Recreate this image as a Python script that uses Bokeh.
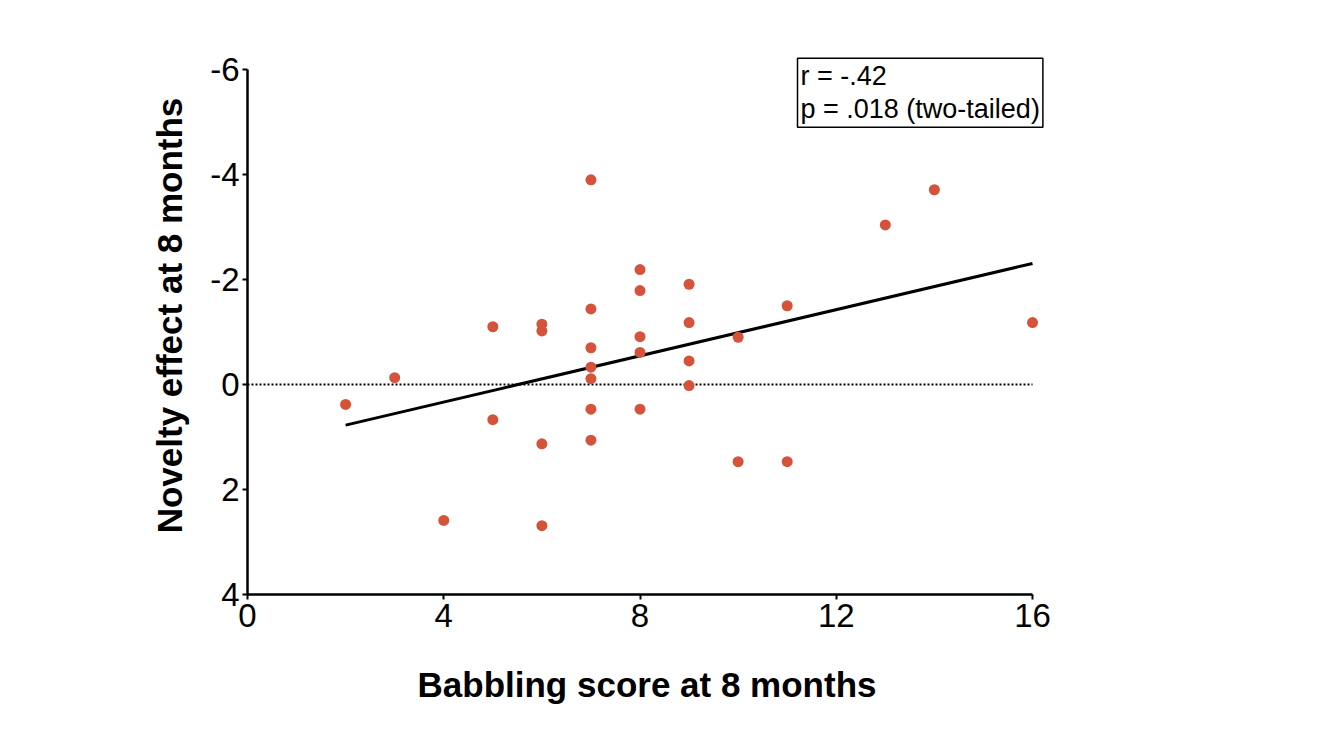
import numpy as np
from bokeh.plotting import figure
from bokeh.models import Range1d, FixedTicker, Label, ColumnDataSource
from bokeh.embed import file_html
from bokeh.resources import INLINE

# Data
babbling = [2, 3, 4, 5, 5, 6, 6, 6, 6,
            7, 7, 7, 7, 7, 7, 7,
            8, 8, 8, 8, 8,
            9, 9, 9, 9,
            10, 10, 11, 11, 13, 14, 16]
novelty = [0.38, -0.13, 2.59, -1.10, 0.67, -1.15, -1.02, 1.13, 2.69,
           -3.90, -1.44, -0.70, -0.33, -0.11, 0.47, 1.06,
           -2.19, -1.79, -0.91, -0.61, 0.47,
           -1.91, -1.18, -0.45, 0.02,
           -0.90, 1.47, -1.50, 1.47, -3.04, -3.71, -1.18]
x_ticks = [0, 4, 8, 12, 16]
x_tick_labels = ["0", "4", "8", "12", "16"]
y_ticks = [-6, -4, -2, 0, 2, 4]
y_tick_labels = ["-6", "-4", "-2", "0", "2", "4"]
zero_line_x = [0, 16]
zero_line_y = [0, 0]
stats_text = "r = -.42\np = .018 (two-tailed)"

FONT = "Liberation Sans"

p = figure(width=1342, height=738, output_backend="svg", toolbar_location=None,
           x_range=Range1d(0, 16.285), y_range=Range1d(4, -6.629),
           min_border_left=247, min_border_right=296,
           min_border_top=36, min_border_bottom=144)
p.outline_line_color = None
p.grid.visible = False
p.background_fill_color = "white"
p.border_fill_color = "white"

# zero reference line
p.line(zero_line_x, zero_line_y, line_color="black", line_width=2,
       line_dash="2 2")

# regression line from data
coef = np.polyfit(babbling, novelty, 1)
fit_x = [min(babbling), max(babbling)]
fit_y = [coef[0] * v + coef[1] for v in fit_x]
p.line(fit_x, fit_y, line_color="black", line_width=3)

src = ColumnDataSource(dict(x=babbling, y=novelty))
p.scatter("x", "y", source=src, size=11, fill_color="#D5533B",
          line_color=None)

for ax in (p.xaxis[0], p.yaxis[0]):
    ax.axis_line_width = 2.5
    ax.axis_line_color = "black"
    ax.major_tick_line_width = 2
    ax.major_tick_in = 0
    ax.major_tick_out = 5
    ax.minor_tick_line_color = None
    ax.major_label_text_font = FONT
    ax.major_label_text_font_size = "33px"
    ax.major_label_text_color = "black"
    ax.axis_label_text_font = FONT
    ax.axis_label_text_font_size = "35px"
    ax.axis_label_text_font_style = "bold"
    ax.axis_label_text_color = "black"

p.xaxis.ticker = FixedTicker(ticks=x_ticks)
p.yaxis.ticker = FixedTicker(ticks=y_ticks)
p.xaxis.major_label_overrides = dict(zip(x_ticks, x_tick_labels))
p.yaxis.major_label_overrides = dict(zip(y_ticks, y_tick_labels))
p.xaxis.bounds = (0, 16)
p.yaxis.bounds = (-6, 4)
p.xaxis.axis_label = "Babbling score at 8 months"
p.yaxis.axis_label = "Novelty effect at 8 months"
p.xaxis.major_label_standoff = 4
p.yaxis.major_label_standoff = 3
p.xaxis.axis_label_standoff = 35
p.yaxis.axis_label_standoff = 18

p.add_layout(Label(x=11.21, y=-6.215, text=stats_text, text_font=FONT,
                   text_font_size="27px", text_color="black",
                   text_align="left", text_baseline="top",
                   border_line_color="black", border_line_width=1.5,
                   background_fill_color="white", padding=3,
                   text_line_height=1.1))

open("out.html", "w").write(file_html(p, INLINE))
